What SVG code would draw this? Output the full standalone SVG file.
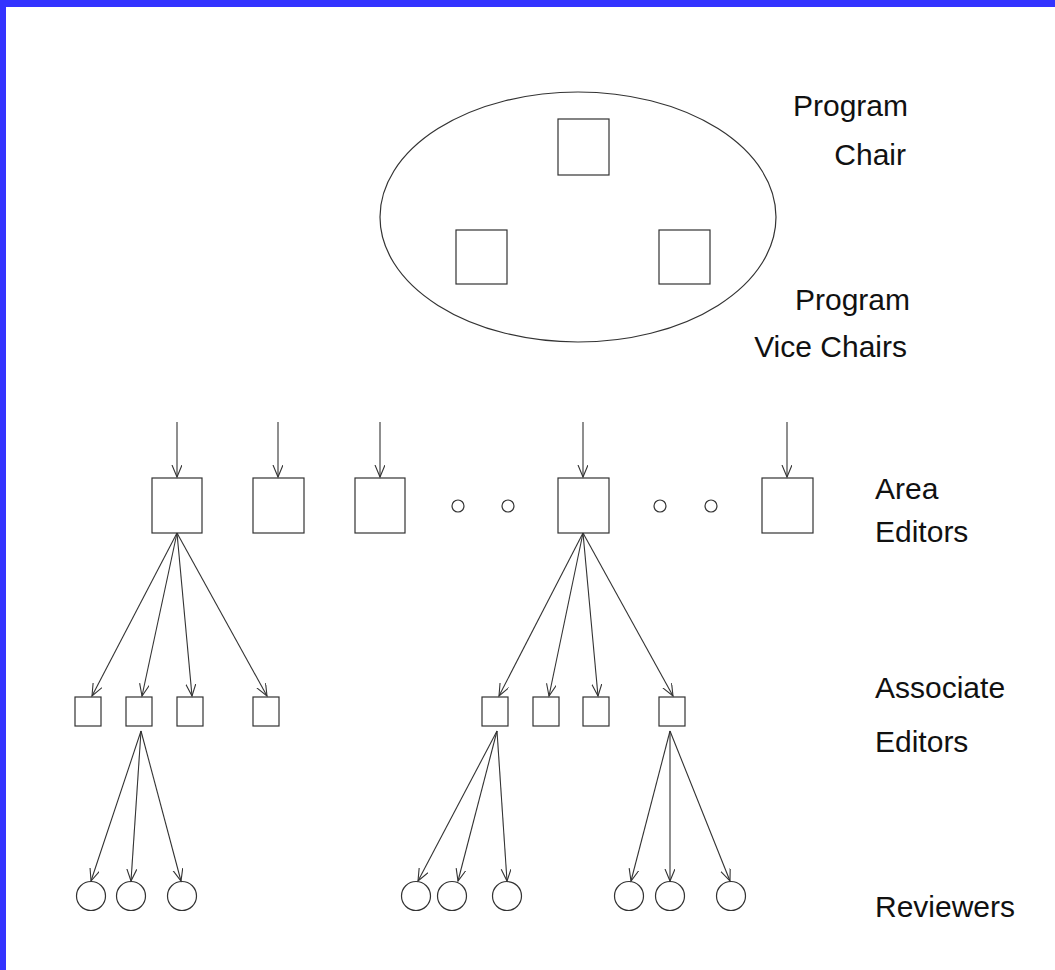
<svg xmlns="http://www.w3.org/2000/svg" width="1055" height="970" viewBox="0 0 1055 970">
<style>
.n{fill:none;stroke:#333;stroke-width:1.2}
.c line{stroke:#333;stroke-width:1.1;marker-end:url(#ah)}
text{font-family:"Liberation Sans",Arial,sans-serif;font-size:30px;fill:#111}
</style>
<defs>
<marker id="ah" markerUnits="userSpaceOnUse" markerWidth="14" markerHeight="12" refX="12" refY="5" orient="auto" viewBox="0 0 14 12">
<path d="M0,0 L12,5 L0,10" fill="none" stroke="#333" stroke-width="1.1"/>
</marker>
</defs>
<rect x="0" y="0" width="1055" height="970" fill="#fff"/>
<rect x="0" y="0" width="1055" height="7" fill="#3333ff"/>
<rect x="0" y="0" width="6" height="970" fill="#3333ff"/>

<g id="program-committee">
<ellipse class="n" cx="578" cy="217" rx="198" ry="125"/>
</g>
<g id="program-chair"><rect class="n" x="558" y="119" width="51" height="56"/></g>
<g id="vice-chair-1"><rect class="n" x="456" y="230" width="51" height="54"/></g>
<g id="vice-chair-2"><rect class="n" x="659" y="230" width="51" height="54"/></g>

<g id="area-editor-1"><rect class="n" x="152" y="478" width="50" height="55"/></g>
<g id="area-editor-2"><rect class="n" x="253" y="478" width="51" height="55"/></g>
<g id="area-editor-3"><rect class="n" x="355" y="478" width="50" height="55"/></g>
<g id="area-editor-4"><rect class="n" x="558" y="478" width="51" height="55"/></g>
<g id="area-editor-5"><rect class="n" x="762" y="478" width="51" height="55"/></g>
<g id="ellipsis-1"><circle class="n" cx="458" cy="506" r="6"/><circle class="n" cx="508" cy="506" r="6"/></g>
<g id="ellipsis-2"><circle class="n" cx="660" cy="506" r="6"/><circle class="n" cx="711" cy="506" r="6"/></g>

<g id="assoc-editor-1"><rect class="n" x="75" y="697" width="26" height="29"/></g>
<g id="assoc-editor-2"><rect class="n" x="126" y="697" width="26" height="29"/></g>
<g id="assoc-editor-3"><rect class="n" x="177" y="697" width="26" height="29"/></g>
<g id="assoc-editor-4"><rect class="n" x="253" y="697" width="26" height="29"/></g>
<g id="assoc-editor-5"><rect class="n" x="482" y="697" width="26" height="29"/></g>
<g id="assoc-editor-6"><rect class="n" x="533" y="697" width="26" height="29"/></g>
<g id="assoc-editor-7"><rect class="n" x="583" y="697" width="26" height="29"/></g>
<g id="assoc-editor-8"><rect class="n" x="659" y="697" width="26" height="29"/></g>

<g id="reviewer-1"><circle class="n" cx="91" cy="896" r="14.5"/></g>
<g id="reviewer-2"><circle class="n" cx="131" cy="896" r="14.5"/></g>
<g id="reviewer-3"><circle class="n" cx="182" cy="896" r="14.5"/></g>
<g id="reviewer-4"><circle class="n" cx="416" cy="896" r="14.5"/></g>
<g id="reviewer-5"><circle class="n" cx="452" cy="896" r="14.5"/></g>
<g id="reviewer-6"><circle class="n" cx="507" cy="896" r="14.5"/></g>
<g id="reviewer-7"><circle class="n" cx="629" cy="896" r="14.5"/></g>
<g id="reviewer-8"><circle class="n" cx="670" cy="896" r="14.5"/></g>
<g id="reviewer-9"><circle class="n" cx="731" cy="896" r="14.5"/></g>

<g id="connectors" class="c">
<line x1="177" y1="422" x2="177" y2="477"/>
<line x1="278" y1="422" x2="278" y2="477"/>
<line x1="380" y1="422" x2="380" y2="477"/>
<line x1="583" y1="422" x2="583" y2="477"/>
<line x1="787" y1="422" x2="787" y2="477"/>

<line x1="177" y1="533" x2="92" y2="696"/>
<line x1="177" y1="533" x2="142" y2="696"/>
<line x1="177" y1="533" x2="192" y2="696"/>
<line x1="177" y1="533" x2="267" y2="696"/>

<line x1="583" y1="533" x2="499" y2="696"/>
<line x1="583" y1="533" x2="549" y2="696"/>
<line x1="583" y1="533" x2="598" y2="696"/>
<line x1="583" y1="533" x2="673" y2="696"/>

<line x1="141" y1="731" x2="91" y2="881"/>
<line x1="141" y1="731" x2="131" y2="881"/>
<line x1="141" y1="731" x2="181" y2="881"/>

<line x1="497" y1="731" x2="418" y2="881"/>
<line x1="497" y1="731" x2="458" y2="881"/>
<line x1="497" y1="731" x2="507" y2="881"/>

<line x1="670" y1="731" x2="631" y2="881"/>
<line x1="670" y1="731" x2="670" y2="881"/>
<line x1="670" y1="731" x2="730" y2="881"/>
</g>

<g id="labels">
<text x="908" y="116" text-anchor="end">Program</text>
<text x="906" y="165" text-anchor="end">Chair</text>
<text x="910" y="310" text-anchor="end">Program</text>
<text x="907" y="357" text-anchor="end">Vice Chairs</text>
<text x="875" y="499">Area</text>
<text x="875" y="542">Editors</text>
<text x="875" y="698">Associate</text>
<text x="875" y="752">Editors</text>
<text x="875" y="917">Reviewers</text>
</g>
</svg>
